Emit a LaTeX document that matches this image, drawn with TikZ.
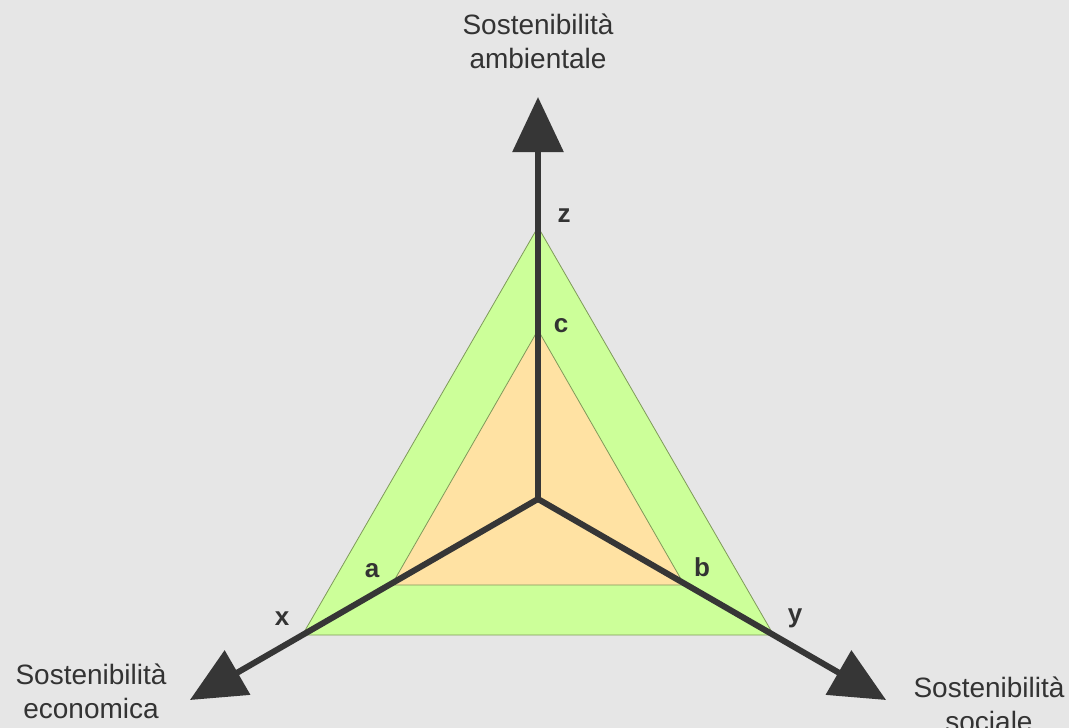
\documentclass[tikz,border=0pt]{standalone}
\usepackage{fontspec}
\setmainfont{Liberation Sans}
\usetikzlibrary{arrows.meta}
\definecolor{bg}{HTML}{E6E6E6}
\definecolor{outerfill}{HTML}{CCFF99}
\definecolor{innerfill}{HTML}{FFE2A3}
\definecolor{edgecol}{HTML}{7F9A5A}
\definecolor{axiscol}{HTML}{363636}
\definecolor{txt}{HTML}{333333}
\begin{document}
\begin{tikzpicture}[x=1pt,y=-1pt,
  axisline/.style={draw=axiscol, line width=6pt, -{Triangle[width=50pt,length=55pt]}},
  title/.style={font=\fontsize{28}{34}\selectfont, text=txt, align=center, inner sep=0pt, anchor=base},
  lab/.style={font=\fontsize{26}{28}\selectfont\bfseries, text=txt, inner sep=0pt, anchor=base},
  tri/.style={draw=edgecol, line width=0.8pt}]
\fill[bg] (0,0) rectangle (1069,728);
\useasboundingbox (0,0) rectangle (1069,728);
% centre and axis tips
\coordinate (O) at (538,499);
\coordinate (TZ) at (538,97);
\coordinate (TX) at (189.9,700);
\coordinate (TY) at (886.1,700);
% outer triangle
\coordinate (Z) at (538,227);
\coordinate (X) at (302.4,635);
\coordinate (Y) at (773.6,635);
% inner triangle
\coordinate (C) at (538,330);
\coordinate (A) at (391.6,585);
\coordinate (B) at (684.4,585);
\path[tri, fill=outerfill] (Z) -- (X) -- (Y) -- cycle;
\path[tri, fill=innerfill] (C) -- (A) -- (B) -- cycle;
\draw[axisline] (O) -- (TZ);
\draw[axisline] (O) -- (TX);
\draw[axisline] (O) -- (TY);
% labels
\node[lab] (lz) at (564,222) {z};
\node[lab] (lc) at (561,332) {c};
\node[lab] (la) at (372,577) {a};
\node[lab] (lb) at (702,576) {b};
\node[lab] (lx) at (282,625) {x};
\node[lab] (ly) at (795,622) {y};
% titles
\node[title] (amb) at (538,68) {Sostenibilità\\ambientale};
\node[title] (eco) at (91,718) {Sostenibilità\\economica};
\node[title] (soc) at (989,731) {Sostenibilità\\sociale};
\end{tikzpicture}
\end{document}
